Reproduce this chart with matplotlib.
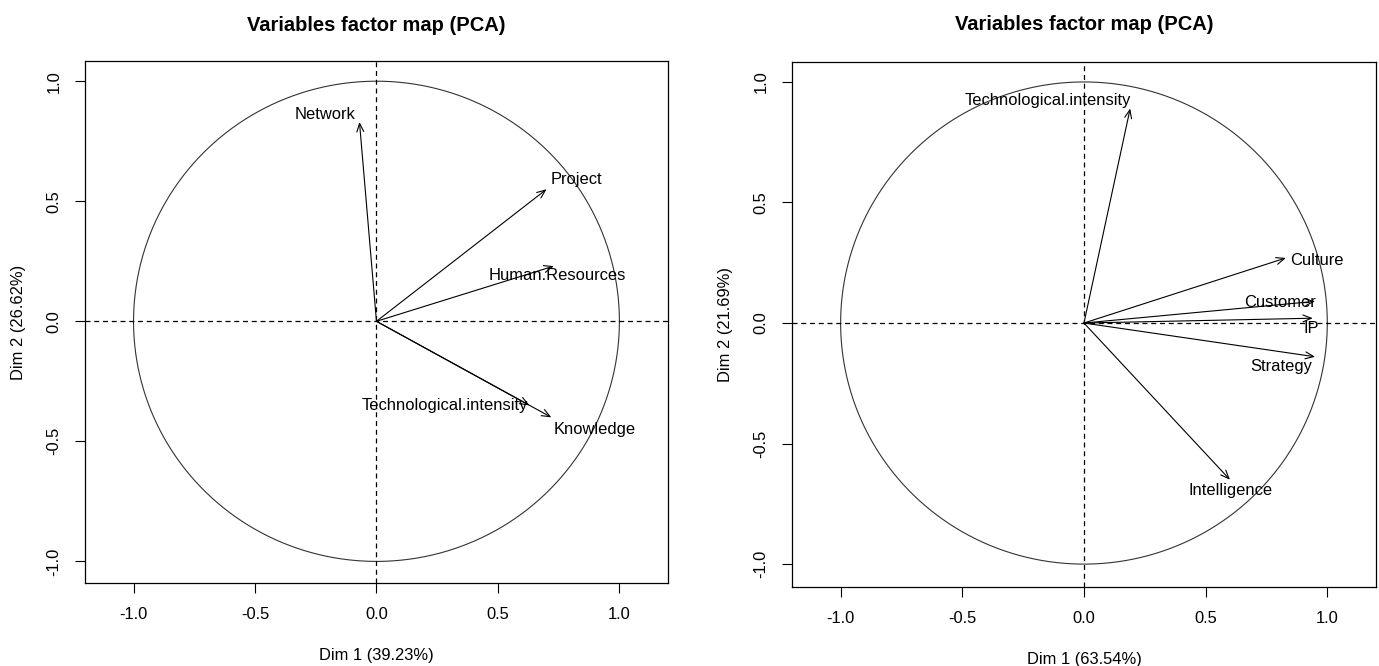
import numpy as np
import matplotlib
matplotlib.use('agg')
import matplotlib.pyplot as plt

plt.rcParams['font.family'] = ['Liberation Sans', 'DejaVu Sans']

# left PCA
vars1 = ['Network', 'Project', 'Human.Resources', 'Technological.intensity', 'Knowledge']
dim1_1 = [-0.07, 0.70, 0.73, 0.63, 0.72]
dim2_1 = [0.83, 0.55, 0.23, -0.35, -0.40]
lab1 = [(-0.085, 0.862, 'right'), (0.716, 0.592, 'left'), (0.461, 0.192, 'left'),
        (-0.062, -0.35, 'left'), (0.728, -0.45, 'left')]

# right PCA
vars2 = ['Technological.intensity', 'Culture', 'Customer', 'IP', 'Strategy', 'Intelligence']
dim1_2 = [0.19, 0.83, 0.95, 0.94, 0.95, 0.60]
dim2_2 = [0.89, 0.27, 0.09, 0.02, -0.14, -0.65]
lab2 = [(-0.49, 0.922, 'left'), (0.846, 0.258, 'left'), (0.658, 0.084, 'left'),
        (0.934, -0.021, 'center'), (0.683, -0.181, 'left'), (0.428, -0.693, 'left')]

pct = [('39.23', '26.62'), ('63.54', '21.69')]

fig = plt.figure(figsize=(13.79, 6.66), dpi=100)
ax1 = fig.add_axes([0.0616, 0.1246, 0.4228, 0.7834])
ax2 = fig.add_axes([0.5743, 0.1186, 0.4235, 0.7884])

fs = 11.9
th = np.linspace(0, 2 * np.pi, 400)
for ax, xs, ys, names, labs, (p1, p2), ylim, tpad in [
        (ax1, dim1_1, dim2_1, vars1, lab1, pct[0], (-1.09, 1.083), 22),
        (ax2, dim1_2, dim2_2, vars2, lab2, pct[1], (-1.095, 1.083), 23)]:
    ax.plot(np.cos(th), np.sin(th), color='#333333', lw=0.8)
    ax.axhline(0, color='black', lw=0.9, ls=(0, (4, 3)))
    ax.axvline(0, color='black', lw=0.9, ls=(0, (4, 3)))
    for x, y, n, (lx, ly, ha) in zip(xs, ys, names, labs):
        ax.annotate('', xy=(x, y), xytext=(0, 0),
                    arrowprops=dict(arrowstyle='->,head_length=0.6,head_width=0.25',
                                    color='black', lw=0.8, shrinkA=0, shrinkB=0))
        ax.text(lx, ly, n, ha=ha, va='center', fontsize=fs)
    ax.set_xlim(-1.2, 1.2)
    ax.set_ylim(*ylim)
    ax.set_xticks([-1.0, -0.5, 0.0, 0.5, 1.0])
    ax.set_yticks([-1.0, -0.5, 0.0, 0.5, 1.0])
    ax.set_xticklabels(['-1.0', '-0.5', '0.0', '0.5', '1.0'], fontsize=fs)
    ax.set_yticklabels(['-1.0', '-0.5', '0.0', '0.5', '1.0'], fontsize=fs,
                       rotation=90, va='center')
    ax.tick_params(direction='out', length=7, width=0.8, pad=10)
    for s in ax.spines.values():
        s.set_linewidth(0.9)
    ax.set_xlabel('Dim 1 (%s%%)' % p1, fontsize=fs, labelpad=19)
    ax.set_ylabel('Dim 2 (%s%%)' % p2, fontsize=fs, labelpad=15)
    ax.set_title('Variables factor map (PCA)', fontsize=14.5, fontweight='bold', pad=tpad)

plt.savefig('out.png')
